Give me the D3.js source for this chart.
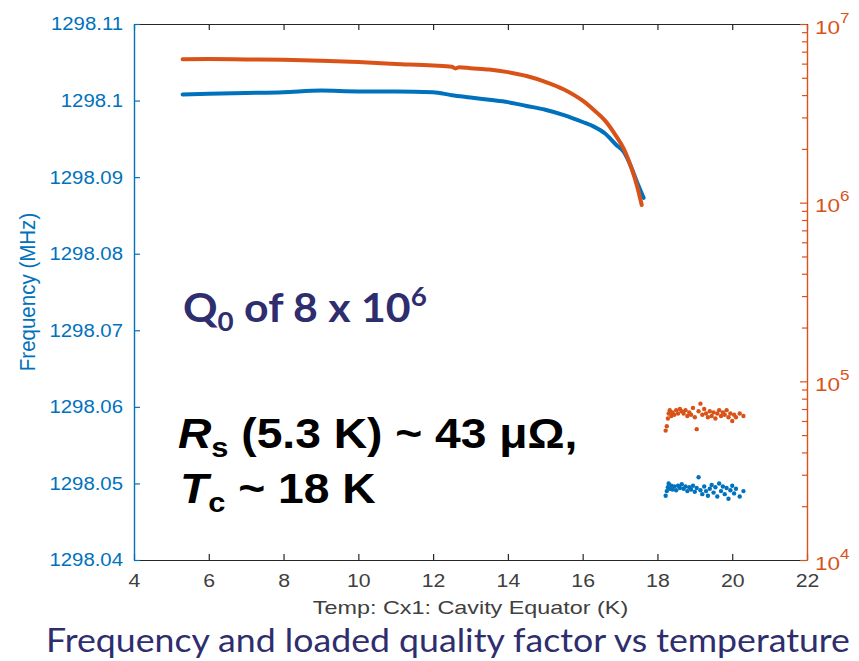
<!DOCTYPE html>
<html>
<head>
<meta charset="utf-8">
<script src="https://cdn.jsdelivr.net/npm/d3@7"></script>
<style>
  html, body { margin: 0; padding: 0; background: #fff; }
  svg { display: block; }
</style>
</head>
<body>
<svg id="chart" width="859" height="661"></svg>
<script>
// Cavity frequency (left axis) and loaded Q (right axis, log) versus temperature.

// Continuous sweep: frequency in MHz
const freqTemp = [5.3, 6, 7, 8, 9, 10, 11, 12, 12.5, 13, 13.5, 14, 14.5, 15, 15.5, 16, 16.3, 16.6, 16.9, 17.1, 17.3, 17.45, 17.63];
const freqMHz  = [1298.1008, 1298.1009, 1298.1010, 1298.1011, 1298.1013, 1298.1012, 1298.1012, 1298.1011, 1298.1007, 1298.1004, 1298.1001,
                  1298.0998, 1298.0993, 1298.0988, 1298.0981, 1298.0972, 1298.0966, 1298.0957, 1298.0942, 1298.0933, 1298.0913, 1298.0894, 1298.0873];

// Continuous sweep: loaded quality factor
const qTemp = [5.3, 6, 7, 8, 9, 10, 11, 12, 12.5, 12.6, 12.7, 13, 13.5, 14, 14.5, 15, 15.5, 16, 16.3, 16.6, 16.9, 17.1, 17.3, 17.45, 17.58];
const qLoaded = [6.35e6, 6.36e6, 6.33e6, 6.30e6, 6.22e6, 6.12e6, 5.98e6, 5.85e6, 5.76e6, 5.64e6, 5.73e6, 5.66e6, 5.56e6,
                 5.38e6, 5.12e6, 4.75e6, 4.30e6, 3.72e6, 3.30e6, 2.88e6, 2.35e6, 2.0e6, 1.57e6, 1.25e6, 9.7e5];

// Normal-conducting points above Tc
const nTemp = [18.22, 18.25, 18.28, 18.30, 18.33, 18.37, 18.40, 18.45, 18.50, 18.55, 18.60, 18.65, 18.70, 18.75, 18.80, 18.85,
               18.90, 18.95, 19.00, 19.05, 19.10, 19.15, 19.20, 19.25, 19.30, 19.35, 19.40, 19.45, 19.50, 19.55, 19.60, 19.65,
               19.70, 19.75, 19.80, 19.85, 19.90, 19.95, 20.00, 20.05, 20.10, 20.20, 20.30];
const nFreq = [1298.0484, 1298.0490, 1298.0495, 1298.0500, 1298.0493, 1298.0497, 1298.0492, 1298.0496, 1298.0491, 1298.0497,
               1298.0494, 1298.0499, 1298.0493, 1298.0496, 1298.0490, 1298.0495, 1298.0492, 1298.0497, 1298.0489, 1298.0494,
               1298.0508, 1298.0491, 1298.0486, 1298.0496, 1298.0490, 1298.0484, 1298.0493, 1298.0498, 1298.0488, 1298.0495,
               1298.0483, 1298.0500, 1298.0490, 1298.0496, 1298.0486, 1298.0494, 1298.0480, 1298.0491, 1298.0497, 1298.0487,
               1298.0493, 1298.0483, 1298.0490];
const nQ = [5.3e4, 5.6e4, 6.2e4, 6.6e4, 6.9e4, 6.4e4, 6.7e4, 6.5e4, 6.9e4, 6.6e4, 7.0e4, 6.8e4, 6.6e4, 6.9e4, 6.4e4, 6.7e4,
            6.5e4, 7.1e4, 6.3e4, 5.4e4, 6.8e4, 7.5e4, 6.5e4, 7.0e4, 6.6e4, 6.3e4, 6.8e4, 6.4e4, 6.7e4, 6.2e4, 6.6e4, 6.9e4,
            6.4e4, 6.7e4, 6.5e4, 6.9e4, 6.3e4, 6.6e4, 6.0e4, 6.5e4, 6.3e4, 6.6e4, 6.4e4];

// Axis ticks
const xTicks = [4, 6, 8, 10, 12, 14, 16, 18, 20, 22];
const yLeftTicks = [1298.04, 1298.05, 1298.06, 1298.07, 1298.08, 1298.09, 1298.1, 1298.11];
const yLeftTickLabels = ["1298.04", "1298.05", "1298.06", "1298.07", "1298.08", "1298.09", "1298.1", "1298.11"];
const yRightExponents = [4, 5, 6, 7];

const BLUE = "#0072BD", ORANGE = "#D95319", AXIS = "#262626", NAVY = "#2E2D6E";

const svg = d3.select("#chart");
const L = 134, R = 807, T = 24, B = 560;

const x = d3.scaleLinear().domain([4, 22]).range([L, R]);
const yL = d3.scaleLinear().domain([1298.04, 1298.11]).range([B, T]);
const yR = d3.scaleLog().domain([1e4, 1e7]).range([B, T]);

const tickFont = "'Liberation Sans', Arial, Helvetica, sans-serif";

// Widen a text element about its anchor point
function widen(sel, f) {
  sel.each(function() {
    const s = d3.select(this);
    const xx = +(s.attr("x") || 0);
    s.attr("x", 0).attr("transform", `translate(${xx},0) scale(${f},1)`);
  });
}

// Top and bottom frame with inward ticks
const axB = svg.append("g").attr("transform", `translate(0,${B})`)
  .call(d3.axisBottom(x).tickValues(xTicks).tickSizeInner(-6).tickSizeOuter(0).tickPadding(14).tickFormat(d3.format("d")));
const axT = svg.append("g").attr("transform", `translate(0,${T})`)
  .call(d3.axisTop(x).tickValues(xTicks).tickSizeInner(-6).tickSizeOuter(0).tickFormat(""));
[axB, axT].forEach(a => {
  a.select(".domain").attr("stroke", AXIS).attr("stroke-width", 1.2);
  a.selectAll(".tick line").attr("stroke", AXIS).attr("stroke-width", 1.2);
  a.selectAll(".tick text").attr("fill", "#404040").style("font-family", tickFont).style("font-size", "18.5px");
});
widen(axB.selectAll(".tick text"), 1.15);

// Left frequency axis
const axL = svg.append("g").attr("transform", `translate(${L},0)`)
  .call(d3.axisLeft(yL).tickValues(yLeftTicks).tickSizeInner(-6).tickSizeOuter(0).tickPadding(11)
    .tickFormat((d, i) => yLeftTickLabels[i]));
axL.select(".domain").attr("stroke", BLUE).attr("stroke-width", 1.4);
axL.selectAll(".tick line").attr("stroke", BLUE).attr("stroke-width", 1.2);
axL.selectAll(".tick text").attr("fill", BLUE).style("font-family", tickFont).style("font-size", "18.5px");
widen(axL.selectAll(".tick text"), 1.1);

// Right log axis: major decades plus minor ticks
const minorQ = [];
for (let e = 4; e < 7; e++) for (let m = 2; m <= 9; m++) minorQ.push(m * Math.pow(10, e));
const axRminor = svg.append("g").attr("transform", `translate(${R},0)`)
  .call(d3.axisRight(yR).tickValues(minorQ).tickSizeInner(-5).tickSizeOuter(0).tickFormat(""));
axRminor.select(".domain").remove();
axRminor.selectAll(".tick line").attr("stroke", ORANGE).attr("stroke-width", 1.2);

const axR = svg.append("g").attr("transform", `translate(${R},0)`)
  .call(d3.axisRight(yR).tickValues(yRightExponents.map(e => Math.pow(10, e))).tickSizeInner(-7).tickSizeOuter(0).tickFormat(""));
axR.select(".domain").attr("stroke", ORANGE).attr("stroke-width", 1.4);
axR.selectAll(".tick line").attr("stroke", ORANGE).attr("stroke-width", 1.2);
axR.selectAll(".tick").each(function(d) {
  const t = d3.select(this).append("text")
    .attr("x", 8).attr("y", 9).attr("fill", ORANGE)
    .style("font-family", tickFont).style("font-size", "18.5px");
  t.append("tspan").text("10");
  t.append("tspan").attr("dy", -11).style("font-size", "14px").text(String(Math.round(Math.log10(d))));
  widen(t, 1.22);
});

// Axis titles
svg.append("text")
  .attr("transform", `translate(${(L + R) / 2},614) scale(1.23,1)`).attr("text-anchor", "middle")
  .attr("fill", "#404040").style("font-family", tickFont).style("font-size", "19px")
  .text("Temp: Cx1: Cavity Equator (K)");

svg.append("text")
  .attr("transform", `translate(35,${(T + B) / 2}) rotate(-90) scale(1.08,1.15)`)
  .attr("text-anchor", "middle").attr("fill", BLUE)
  .style("font-family", tickFont).style("font-size", "19px")
  .text("Frequency (MHz)");

// Curves
const lineF = d3.line().curve(d3.curveMonotoneX).x((d, i) => x(freqTemp[i])).y(d => yL(d));
svg.append("path").datum(freqMHz).attr("d", lineF)
  .attr("fill", "none").attr("stroke", BLUE).attr("stroke-width", 4).attr("stroke-linejoin", "round").attr("stroke-linecap", "round");

svg.append("g").selectAll("circle").data(nFreq).join("circle")
  .attr("cx", (d, i) => x(nTemp[i])).attr("cy", d => yL(d)).attr("r", 2.2).attr("fill", BLUE);

const lineQ = d3.line().curve(d3.curveMonotoneX).x((d, i) => x(qTemp[i])).y(d => yR(d));
svg.append("path").datum(qLoaded).attr("d", lineQ)
  .attr("fill", "none").attr("stroke", ORANGE).attr("stroke-width", 4).attr("stroke-linejoin", "round").attr("stroke-linecap", "round");

svg.append("g").selectAll("circle").data(nQ).join("circle")
  .attr("cx", (d, i) => x(nTemp[i])).attr("cy", d => yR(d)).attr("r", 2.2).attr("fill", ORANGE);

// Annotations
const boldSans = "'Liberation Sans', Arial, Helvetica, sans-serif";
const q0 = svg.append("text").attr("transform", "translate(183,322) scale(1.07,1)").attr("fill", NAVY)
  .style("font-family", "Lato, 'Open Sans', sans-serif").style("font-weight", 700).style("font-size", "40px");
q0.append("tspan").text("Q");
q0.append("tspan").attr("dy", 9).style("font-size", "26px").text("0");
q0.append("tspan").attr("dy", -9).text(" of 8 x 10");
q0.append("tspan").attr("dy", -16).style("font-size", "26px").text("6");

const rs = svg.append("text").attr("transform", "translate(178,448) scale(1.1,1)").attr("fill", "#000")
  .style("font-family", boldSans).style("font-weight", 700).style("font-size", "42px");
rs.append("tspan").style("font-style", "italic").text("R");
rs.append("tspan").attr("dy", 9).style("font-size", "28px").text("s");
rs.append("tspan").attr("dy", -9).text(" (5.3 K) ~ 43 μΩ,");

const tc = svg.append("text").attr("transform", "translate(180,503) scale(1.1,1)").attr("fill", "#000")
  .style("font-family", boldSans).style("font-weight", 700).style("font-size", "42px");
tc.append("tspan").style("font-style", "italic").text("T");
tc.append("tspan").attr("dy", 9).style("font-size", "28px").text("c");
tc.append("tspan").attr("dy", -9).text(" ~ 18 K");

// Caption
svg.append("text").attr("transform", "translate(448,652) scale(1.115,1)").attr("text-anchor", "middle").attr("fill", NAVY)
  .style("font-family", "Lato, 'Open Sans', sans-serif").style("font-size", "32px")
  .text("Frequency and loaded quality factor vs temperature");
</script>
</body>
</html>
